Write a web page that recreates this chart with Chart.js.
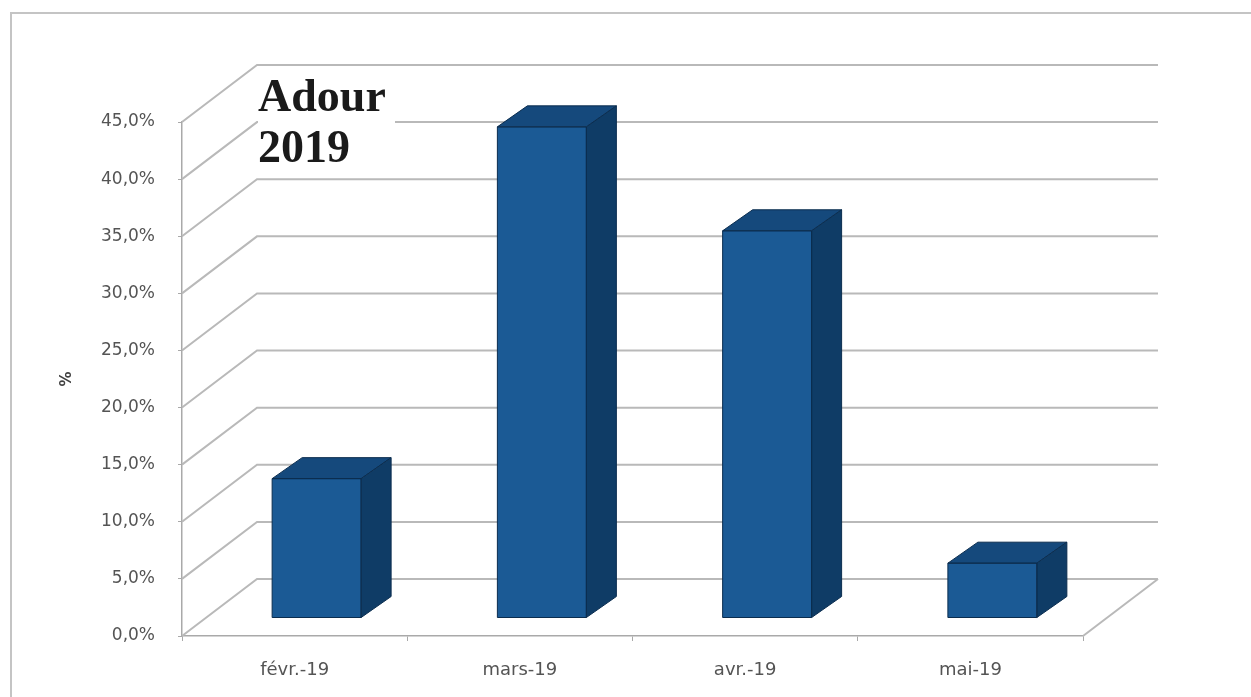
<!DOCTYPE html>
<html>
<head>
<meta charset="utf-8">
<script src="https://cdn.jsdelivr.net/npm/chart.js@4.4.1/dist/chart.umd.min.js"></script>
<style>
  html, body { margin: 0; padding: 0; background: #ffffff; }
  #wrap { width: 1251px; height: 697px; }
</style>
</head>
<body>
<div id="wrap"><canvas id="adourChart" width="1251" height="697"></canvas></div>
<script>
// données
const categories = ["févr.-19", "mars-19", "avr.-19", "mai-19"];
const values = [12.2, 43.0, 33.9, 4.8];
const yTickLabels = ["0,0%", "5,0%", "10,0%", "15,0%", "20,0%", "25,0%", "30,0%", "35,0%", "40,0%", "45,0%"];
const titleLines = ["Adour", "2019"];

// décalages de la perspective 3D
const WALL_DX = 75, WALL_DY = 57;   // mur du fond
const BAR_OX = 22, BAR_OY = 18;     // plan des barres
const BAR_DX = 30, BAR_DY = 21;     // profondeur d'une barre

const gridColor = "#b9b9b9";
const axisColor = "#a9a9a9";
const labelColor = "#545454";

const wallPlugin = {
  id: "wall3d",
  beforeDraw(chart) {
    const c = chart.ctx;
    c.save();
    c.strokeStyle = "#c4c4c4";
    c.lineWidth = 2;
    c.strokeRect(11, 13, 1300, 750); // cadre du graphique
    c.restore();
  },
  beforeDatasetsDraw(chart) {
    const c = chart.ctx;
    const y = chart.scales.y;
    const area = chart.chartArea;
    c.save();
    c.strokeStyle = gridColor;
    c.lineWidth = 2;
    y.ticks.forEach(function (t) {
      const py = y.getPixelForValue(t.value);
      c.beginPath();
      c.moveTo(area.left, py);
      c.lineTo(area.left + WALL_DX, py - WALL_DY);
      c.lineTo(area.right + WALL_DX, py - WALL_DY);
      c.stroke();
    });
    // bord droit du sol
    c.beginPath();
    c.moveTo(area.right, area.bottom);
    c.lineTo(area.right + WALL_DX, area.bottom - WALL_DY);
    c.stroke();

    // titre sur fond blanc
    c.fillStyle = "#ffffff";
    c.fillRect(area.left + WALL_DX + 1, 70, 137, 102);
    c.fillStyle = "#1a1a1a";
    c.font = "bold 46px 'Liberation Serif', 'Times New Roman', serif";
    c.textBaseline = "alphabetic";
    c.textAlign = "left";
    c.fillText(titleLines[0], area.left + WALL_DX + 1, 111);
    c.fillText(titleLines[1], area.left + WALL_DX + 1, 162);
    c.restore();
  },
  afterDatasetsDraw(chart) {
    const c = chart.ctx;
    const meta = chart.getDatasetMeta(0);
    c.save();
    c.lineJoin = "round";
    meta.data.forEach(function (bar) {
      const w = bar.width;
      const l = bar.x - w / 2 + BAR_OX;
      const r = bar.x + w / 2 + BAR_OX;
      const top = bar.y - BAR_OY;
      const bottom = bar.base - BAR_OY;
      c.strokeStyle = "#0b2d4f";
      c.lineWidth = 1;
      // face avant
      c.fillStyle = "#1b5a95";
      c.fillRect(l, top, r - l, bottom - top);
      // dessus
      c.beginPath();
      c.moveTo(l, top);
      c.lineTo(l + BAR_DX, top - BAR_DY);
      c.lineTo(r + BAR_DX, top - BAR_DY);
      c.lineTo(r, top);
      c.closePath();
      c.fillStyle = "#15497c";
      c.fill();
      c.stroke();
      // côté
      c.beginPath();
      c.moveTo(r, top);
      c.lineTo(r + BAR_DX, top - BAR_DY);
      c.lineTo(r + BAR_DX, bottom - BAR_DY);
      c.lineTo(r, bottom);
      c.closePath();
      c.fillStyle = "#0f3c66";
      c.fill();
      c.stroke();
      c.strokeRect(l, top, r - l, bottom - top);
    });
    c.restore();
  }
};

const ctx = document.getElementById("adourChart").getContext("2d");

new Chart(ctx, {
  type: "bar",
  data: {
    labels: categories,
    datasets: [
      {
        data: values,
        backgroundColor: "rgba(0,0,0,0)",
        borderWidth: 0,
        categoryPercentage: 1,
        barPercentage: 0.395
      }
    ]
  },
  options: {
    responsive: false,
    animation: false,
    devicePixelRatio: 1,
    layout: { padding: { left: 0, right: 168, top: 122, bottom: 0 } },
    plugins: {
      legend: { display: false },
      tooltip: { enabled: false }
    },
    scales: {
      x: {
        grid: { drawOnChartArea: false, drawTicks: true, tickLength: 5, color: axisColor, offset: true },
        border: { display: true, color: axisColor, width: 1.5 },
        ticks: { color: labelColor, padding: 19, font: { family: "'DejaVu Sans'", size: 18 } },
        afterFit: function (s) { s.height = 61; }
      },
      y: {
        min: 0,
        max: 45,
        ticks: {
          stepSize: 5,
          color: labelColor,
          padding: 23,
          font: { family: "'DejaVu Sans'", size: 17 },
          callback: function (v, i) { return yTickLabels[i]; }
        },
        grid: { drawOnChartArea: false, drawTicks: true, tickLength: 4, color: axisColor },
        border: { display: true, color: axisColor, width: 1.5 },
        title: {
          display: true,
          text: "%",
          color: "#404040",
          font: { family: "'DejaVu Sans'", size: 15, weight: "bold" },
          padding: { top: 58, bottom: 0 }
        },
        afterFit: function (s) { s.width = 182; }
      }
    }
  },
  plugins: [wallPlugin]
});
</script>
</body>
</html>
